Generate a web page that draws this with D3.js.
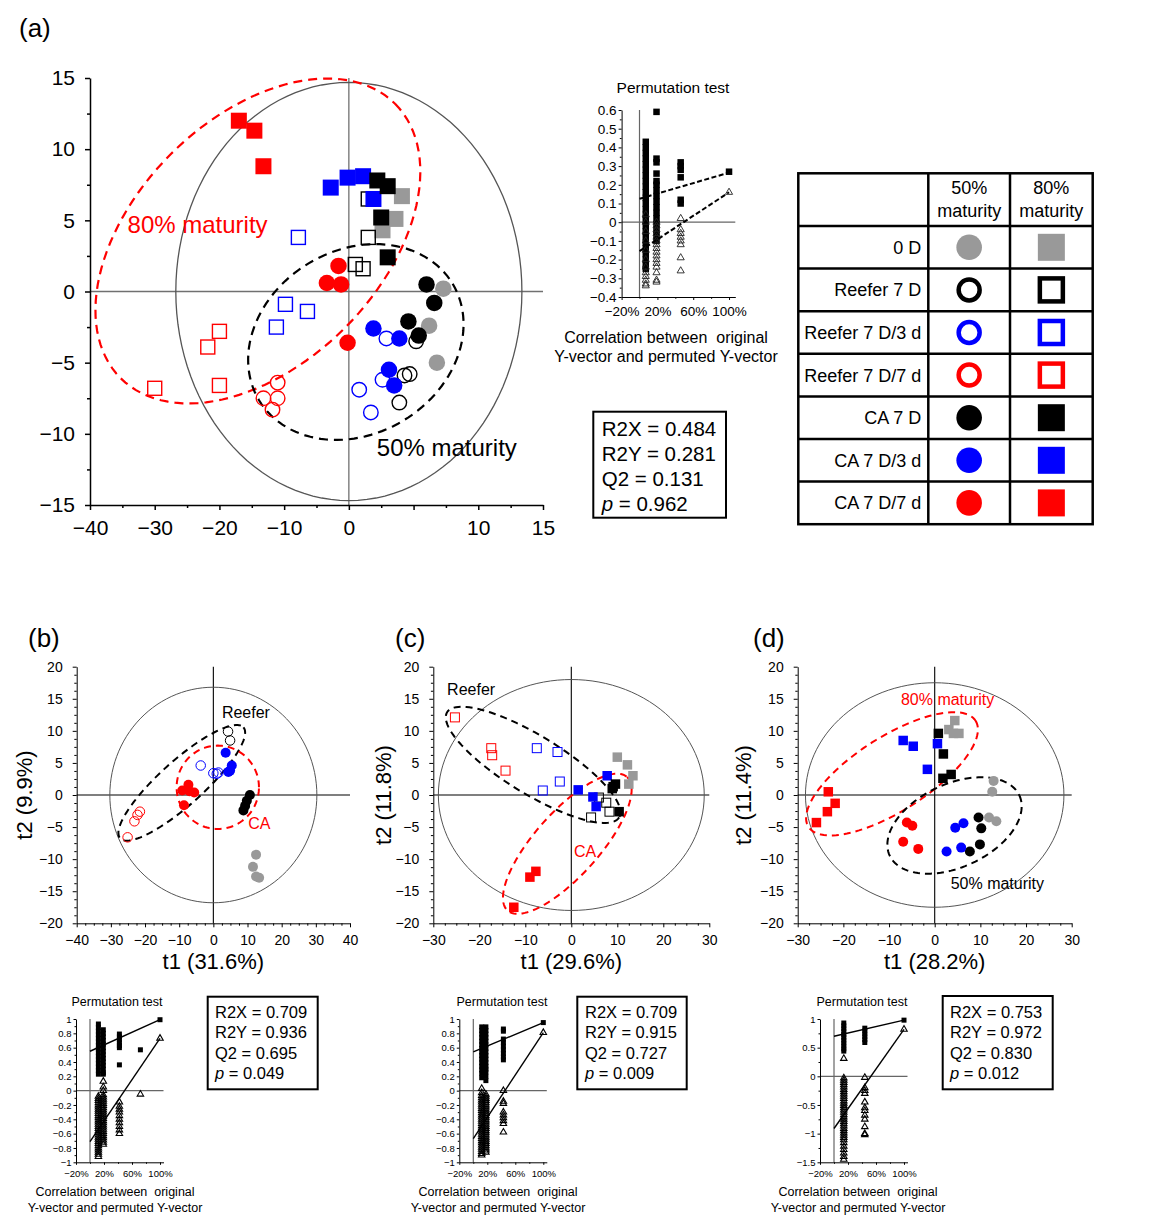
<!DOCTYPE html>
<html>
<head>
<meta charset="utf-8">
<script src="https://cdn.jsdelivr.net/npm/d3@7"></script>
<style>
  body { margin: 0; background: #fff; }
  svg { display: block; }
</style>
</head>
<body>
<svg id="fig" width="1153" height="1223"></svg>
<script>
const FONT = "Arial, 'Liberation Sans', Helvetica, sans-serif";

// Treatment groups (legend rows)
const groups = ["0 D", "Reefer 7 D", "Reefer 7 D/3 d", "Reefer 7 D/7 d", "CA 7 D", "CA 7 D/3 d", "CA 7 D/7 d"];
const groupColor = ["#999999", "#000000", "#0000ff", "#ff0000", "#000000", "#0000ff", "#ff0000"];
const groupOpen = [false, true, true, true, false, false, false];

// (a) scores [group, t1, t2]; circles = 50% maturity, squares = 80% maturity
const a50 = [
  [0, 7.3, 0.2], [0, 6.2, -2.4], [0, 6.8, -5.0],
  [1, 5.2, -3.5], [1, 4.3, -5.9], [1, 4.7, -5.8], [1, 3.9, -7.8],
  [2, 2.9, -3.3], [2, 2.6, -6.2], [2, 0.8, -6.9], [2, 1.7, -8.5],
  [3, -5.5, -6.4], [3, -5.5, -7.5], [3, -6.6, -7.5], [3, -5.9, -8.3],
  [4, 6.0, 0.5], [4, 6.6, -0.8], [4, 4.6, -2.1], [4, 5.4, -3.1],
  [5, 1.9, -2.6], [5, 3.9, -3.3], [5, 3.1, -5.5], [5, 3.5, -6.6],
  [6, -0.8, 1.8], [6, -1.7, 0.6], [6, -0.6, 0.5], [6, -0.1, -3.6]
];
const a80 = [
  [0, 4.1, 6.7], [0, 3.6, 5.1], [0, 2.6, 4.3],
  [1, 1.5, 6.5], [1, 1.5, 3.8], [1, 0.5, 1.9], [1, 1.1, 1.6],
  [2, -3.9, 3.8], [2, -4.9, -0.9], [2, -3.2, -1.4], [2, -5.6, -2.5],
  [3, -15.0, -6.8], [3, -10.9, -3.9], [3, -10.0, -2.8], [3, -10.0, -6.6],
  [5, -1.4, 7.3], [5, -0.1, 8.0], [5, 1.1, 8.1], [5, 1.9, 6.5],
  [4, 2.2, 7.8], [4, 3.0, 7.4], [4, 2.5, 5.2], [4, 3.0, 2.4],
  [6, -8.5, 12.0], [6, -7.3, 11.3], [6, -6.6, 8.8]
];
const aXTicks = [-20, -15, -10, -5, 0, 5, 10, 15];
const aXTickLabels = ["−40", "−30", "−20", "−10", "0", "", "10", "15"];
const aT2 = [13.37, 14.69];
const aEllipses = [
  { cx: -7.03, cy: 3.55, ax: 10.6, ay: 9.64, bx: 6.72, by: -6.11 },
  { cx: 0.54, cy: -3.55, ax: 7.48, ay: 4.09, bx: 3.65, by: -5.53 }
];
const aLabels = [["80% maturity", -17.1, 4.1], ["50% maturity", 2.16, -11.56]];
const aStats = [["R2X", "0.484"], ["R2Y", "0.281"], ["Q2", "0.131"], ["p", "0.962"]];

// (b) 50% maturity
const b50 = [
  [0, 12.5, -9.3], [0, 11.6, -11.2], [0, 12.5, -12.7], [0, 13.4, -12.9],
  [1, 4.3, 9.9], [1, 4.9, 8.5],
  [2, -3.7, 4.6], [2, 0.0, 3.4], [2, 1.0, 3.3], [2, 1.5, 3.5],
  [3, -21.5, -2.6], [3, -22.2, -3.1], [3, -23.1, -4.1], [3, -25.1, -6.6],
  [4, 10.7, 0.0], [4, 9.8, -0.9], [4, 9.3, -1.7], [4, 8.8, -2.4],
  [5, 3.6, 6.6], [5, 5.4, 4.6], [5, 4.9, 3.8], [5, 4.4, 3.6],
  [6, -7.3, 1.6], [6, -9.1, 0.7], [6, -5.6, 0.4], [6, -8.6, -1.6], [6, -7.0, 0.6]
];
const bT2 = [30.3, 16.8];
const bEllipses = [
  { cx: -9.25, cy: 1.9, ax: 18.05, ay: 8.65, bx: 4.3, by: -2.55 },
  { cx: 1.3, cy: 1.2, ax: 12.05, ay: 0, bx: 0, by: 6.5 }
];
const bLabels = [["Reefer", 2.5, 12.0], ["CA", 10.2, -5.25]];
const bStats = [["R2X", "0.709"], ["R2Y", "0.936"], ["Q2", "0.695"], ["p", "0.049"]];

// (c) 80% maturity
const c80 = [
  [0, 10.0, 5.9], [0, 12.2, 4.7], [0, 13.4, 3.0], [0, 12.5, 1.7],
  [1, 6.0, -0.4], [1, 7.6, -1.2], [1, 8.3, -2.6], [1, 4.3, -3.5],
  [2, -7.5, 7.3], [2, -3.0, 6.7], [2, -2.5, 2.1], [2, -6.2, 0.7],
  [3, -25.3, 12.1], [3, -17.4, 7.3], [3, -17.2, 6.2], [3, -14.3, 3.8],
  [5, 7.8, 3.0], [5, 1.5, 0.8], [5, 4.7, -0.3], [5, 5.4, -1.8],
  [4, 9.1, 1.3], [4, 9.6, 1.7], [4, 8.9, 1.0], [4, 10.4, -2.6],
  [6, -7.7, -11.9], [6, -9.0, -12.8], [6, -12.5, -17.5]
];
const cT2 = [28.9, 18.0];
const cEllipses = [
  { cx: -8.3, cy: 4.7, ax: 18.7, ay: -8.2, bx: -3.3, by: -3.85 },
  { cx: -0.87, cy: -7.6, ax: 13.0, ay: 10.4, bx: 5.17, by: -3.33 }
];
const cLabels = [["Reefer", -27.0, 15.6], ["CA", 0.6, -9.6]];
const cStats = [["R2X", "0.709"], ["R2Y", "0.915"], ["Q2", "0.727"], ["p", "0.009"]];

// (d) CA samples, both maturities
const d50 = [
  [0, 12.9, 2.2], [0, 12.6, 0.5], [0, 11.9, -3.5], [0, 13.5, -4.1],
  [4, 9.6, -3.5], [4, 10.2, -5.2], [4, 9.9, -7.7], [4, 7.7, -8.8],
  [5, 4.5, -5.1], [5, 6.3, -4.4], [5, 5.8, -8.2], [5, 2.6, -8.8],
  [6, -6.1, -4.3], [6, -4.9, -4.8], [6, -6.9, -7.3], [6, -3.6, -8.4]
];
const d80 = [
  [0, 4.4, 11.6], [0, 3.1, 10.2], [0, 4.1, 9.6], [0, 5.3, 9.6],
  [4, 0.8, 9.6], [4, 1.9, 6.4], [4, 3.6, 3.2], [4, 1.8, 2.6],
  [5, -6.9, 8.5], [5, -4.7, 7.6], [5, 0.6, 8.0], [5, -1.6, 4.0],
  [6, -23.3, 0.5], [6, -21.8, -1.3], [6, -23.5, -2.6], [6, -25.9, -4.3]
];
const dT2 = [28.3, 17.5];
const dEllipses = [
  { cx: -9.35, cy: 3.3, ax: 18.3, ay: 8.27, bx: 4.37, by: -4.89 },
  { cx: 4.34, cy: -4.75, ax: 14.2, ay: 4.69, bx: 3.83, by: -5.88 }
];
const dLabels = [["80% maturity", -7.4, 14.1], ["50% maturity", 3.5, -14.6]];
const dStats = [["R2X", "0.753"], ["R2Y", "0.972"], ["Q2", "0.830"], ["p", "0.012"]];

// permutation tests: column x (correlation), R2 values (squares), Q2 values (triangles), regression lines
const permA_x = [0.07, 0.19, 0.46, 1.0];
const permA_R2 = [
  [0.43, 0.40, 0.37, 0.34, 0.31, 0.28, 0.25, 0.22, 0.19, 0.16, 0.13, 0.10, 0.07, 0.04, 0.01, -0.02, -0.05, -0.08, -0.11, -0.14, -0.17, -0.20, -0.23, -0.25],
  [0.59, 0.34, 0.32, 0.26, 0.22, 0.20, 0.17, 0.14, 0.11, 0.08, 0.05, 0.02, -0.01, -0.04, -0.07, -0.10],
  [0.32, 0.30, 0.28, 0.24, 0.12, 0.10],
  [0.27]
];
const permA_Q2 = [
  [0.04, 0.0, -0.05, -0.10, -0.15, -0.20, -0.24, -0.27, -0.29, -0.31, -0.33, -0.34],
  [0.0, -0.02, -0.04, -0.06, -0.08, -0.10, -0.12, -0.14, -0.16, -0.18, -0.20, -0.22, -0.24, -0.27, -0.31, -0.32],
  [0.02, -0.04, -0.06, -0.08, -0.10, -0.12, -0.19, -0.26],
  [0.16]
];
const permA_lines = [[[0, 0.125], [1, 0.265]], [[0, -0.155], [1, 0.16]]];

const permB_x = [0.12, 0.19, 0.42, 0.72, 1.0];
const permB_R2 = [
  [0.93, 0.88, 0.83, 0.78, 0.73, 0.68, 0.63, 0.58, 0.53, 0.48, 0.43, 0.38, 0.33, 0.28, 0.23],
  [0.85, 0.80, 0.75, 0.70, 0.65, 0.60, 0.55, 0.50, 0.45, 0.40, 0.35, 0.30, 0.25, 0.23],
  [0.79, 0.75, 0.71, 0.67, 0.63, 0.60, 0.36],
  [0.57],
  [0.99]
];
const permB_Q2 = [
  [-0.08, -0.11, -0.14, -0.17, -0.20, -0.23, -0.26, -0.29, -0.32, -0.35, -0.38, -0.41, -0.44, -0.47, -0.50, -0.53, -0.56, -0.59, -0.62, -0.65, -0.68, -0.71, -0.74, -0.77, -0.80, -0.83, -0.86, -0.89, -0.92],
  [0.13, 0.05, 0.0, -0.06, -0.09, -0.12, -0.15, -0.18, -0.21, -0.24, -0.27, -0.30, -0.33, -0.36, -0.39, -0.42, -0.45, -0.48, -0.51, -0.54, -0.57, -0.60, -0.63, -0.66, -0.69, -0.72, -0.75],
  [-0.16, -0.22, -0.26, -0.30, -0.35, -0.40, -0.45, -0.50, -0.55, -0.60],
  [-0.05],
  [0.73]
];
const permB_lines = [[[0, 0.55], [1, 0.99]], [[0, -0.71], [1, 0.73]]];

const permC_x = [0.12, 0.18, 0.43, 1.0];
const permC_R2 = [
  [0.89, 0.84, 0.79, 0.74, 0.69, 0.64, 0.59, 0.54, 0.49, 0.44, 0.39, 0.34, 0.29, 0.24, 0.18],
  [0.89, 0.84, 0.79, 0.74, 0.69, 0.64, 0.59, 0.54, 0.49, 0.44, 0.39, 0.34, 0.30, 0.26, 0.20, 0.14],
  [0.86, 0.83, 0.72, 0.67, 0.62, 0.57, 0.52, 0.47, 0.43],
  [0.95]
];
const permC_Q2 = [
  [0.03, -0.03, -0.07, -0.10, -0.13, -0.16, -0.19, -0.22, -0.25, -0.28, -0.31, -0.34, -0.37, -0.40, -0.43, -0.46, -0.49, -0.52, -0.55, -0.58, -0.61, -0.64, -0.67, -0.70, -0.73, -0.76, -0.79, -0.82, -0.85, -0.88, -0.90],
  [-0.05, -0.08, -0.11, -0.14, -0.17, -0.20, -0.23, -0.26, -0.29, -0.32, -0.35, -0.38, -0.41, -0.44, -0.47, -0.50, -0.53, -0.56, -0.59, -0.62, -0.65, -0.68, -0.71, -0.74, -0.77, -0.80, -0.83, -0.86],
  [0.0, -0.15, -0.18, -0.30, -0.34, -0.38, -0.42, -0.46, -0.58],
  [0.81]
];
const permC_lines = [[[0, 0.54], [1, 0.95]], [[0, -0.67], [1, 0.81]]];

const permD_x = [0.14, 0.44, 1.0];
const permD_R2 = [
  [0.93, 0.88, 0.83, 0.78, 0.73, 0.68, 0.63, 0.58, 0.53, 0.48, 0.44],
  [0.84, 0.79, 0.74, 0.69, 0.64, 0.59],
  [0.98]
];
const permD_Q2 = [
  [0.31, -0.03, -0.07, -0.11, -0.15, -0.19, -0.23, -0.27, -0.31, -0.35, -0.39, -0.43, -0.47, -0.51, -0.55, -0.59, -0.63, -0.67, -0.71, -0.75, -0.79, -0.83, -0.87, -0.91, -0.95, -0.99, -1.03, -1.07, -1.11, -1.16, -1.22, -1.28, -1.34, -1.40, -1.45],
  [-0.02, -0.20, -0.25, -0.30, -0.45, -0.55, -0.60, -0.68, -0.75, -0.88, -1.00, -1.02],
  [0.82]
];
const permD_lines = [[[0, 0.70], [1, 0.98]], [[0, -0.91], [1, 0.82]]];

const permTicksX = [-0.2, 0.2, 0.6, 1.0];
const captionLines = ["Correlation between  original", "Y-vector and permuted Y-vector"];

// ---------------------------------------------------------------
const svg = d3.select("#fig").attr("font-family", FONT);

function ellipsePts(e) {
  return d3.range(0, 361, 3).map(deg => {
    const t = deg * Math.PI / 180;
    return [e.cx + e.ax * Math.cos(t) + e.bx * Math.sin(t), e.cy + e.ay * Math.cos(t) + e.by * Math.sin(t)];
  });
}

function addAxis(g, gen, transform, o, minor) {
  const a = g.append("g").attr("transform", transform).call(gen);
  a.attr("font-family", FONT).attr("font-size", o.font);
  a.select(".domain").attr("stroke", "#000").attr("stroke-width", o.sw);
  a.selectAll(".tick line").attr("stroke", "#000").attr("stroke-width", o.sw);
  a.selectAll(".tick text").attr("fill", "#000");
  if (minor) a.select(".domain").remove();
  return a;
}

function axes(g, xs, ys, o) {
  const y0 = ys.range()[0], x0 = xs.range()[0];
  addAxis(g, d3.axisBottom(xs).tickValues(o.xTicks).tickFormat((d, i) => o.xFmt(d, i))
    .tickSize(o.tick).tickPadding(o.padX).tickSizeOuter(0), `translate(0,${y0})`, o);
  addAxis(g, d3.axisLeft(ys).tickValues(o.yTicks).tickFormat(o.yFmt)
    .tickSize(o.tick).tickPadding(o.padY).tickSizeOuter(0), `translate(${x0},0)`, o);
  if (o.xMinor) addAxis(g, d3.axisBottom(xs).tickValues(o.xMinor).tickFormat("").tickSize(o.tick * 0.6).tickSizeOuter(0), `translate(0,${y0})`, o, true);
  if (o.yMinor) addAxis(g, d3.axisLeft(ys).tickValues(o.yMinor).tickFormat("").tickSize(o.tick * 0.6).tickSizeOuter(0), `translate(${x0},0)`, o, true);
}

function markers(g, pts, shape, xs, ys, m) {
  const sz = d => groupOpen[d[0]] ? m.open : m.fill;
  const sel = g.selectAll(null).data(pts).join(shape === "circle" ? "circle" : "rect");
  if (shape === "circle") {
    sel.attr("cx", d => xs(d[1])).attr("cy", d => ys(d[2])).attr("r", d => sz(d) / 2);
  } else {
    sel.attr("x", d => xs(d[1]) - sz(d) / 2).attr("y", d => ys(d[2]) - sz(d) / 2)
      .attr("width", sz).attr("height", sz);
  }
  sel.attr("fill", d => groupOpen[d[0]] ? "none" : groupColor[d[0]])
    .attr("stroke", d => groupOpen[d[0]] ? groupColor[d[0]] : "none")
    .attr("stroke-width", m.sw);
}

function scatter(c) {
  const { xs, ys } = c;
  const g = svg.append("g");
  const line = d3.line().x(d => xs(d[0])).y(d => ys(d[1]));
  // zero lines
  g.append("line").attr("x1", xs.range()[0]).attr("x2", xs.range()[1]).attr("y1", ys(0)).attr("y2", ys(0))
    .attr("stroke", c.zeroColor).attr("stroke-width", c.zeroW);
  g.append("line").attr("x1", xs(0)).attr("x2", xs(0)).attr("y1", ys.range()[0]).attr("y2", ys.range()[1])
    .attr("stroke", c.zeroColor).attr("stroke-width", c.zeroW);
  // Hotelling T2 ellipse
  g.append("path").attr("d", line(ellipsePts({ cx: 0, cy: 0, ax: c.t2[0], ay: 0, bx: 0, by: c.t2[1] })))
    .attr("fill", "none").attr("stroke", "#555").attr("stroke-width", c.t2W);
  axes(g, xs, ys, c);
  // group ellipses
  c.ellipses.forEach((e, i) => {
    g.append("path").attr("d", line(ellipsePts(e))).attr("fill", "none")
      .attr("stroke", c.ellColors[i]).attr("stroke-width", c.ellW).attr("stroke-dasharray", c.dash);
  });
  if (c.pts80) markers(g, c.pts80, "rect", xs, ys, c.sq);
  if (c.pts50) markers(g, c.pts50, "circle", xs, ys, c.ci);
  c.labels.forEach((l, i) => {
    g.append("text").attr("x", xs(l[1])).attr("y", ys(l[2])).attr("font-size", c.labelFont)
      .attr("fill", c.labelColors[i]).text(l[0]);
  });
  if (c.xTitle) {
    g.append("text").attr("x", xs(0)).attr("y", c.xTitleY).attr("text-anchor", "middle")
      .attr("font-size", c.titleFont).text(c.xTitle);
    g.append("text").attr("transform", `translate(${c.yTitleX},${ys(0)}) rotate(-90)`)
      .attr("text-anchor", "middle").attr("dy", "0.35em").attr("font-size", c.titleFont).text(c.yTitle);
  }
}

function statsBox(stats, b) {
  const g = svg.append("g");
  g.append("rect").attr("x", b.x).attr("y", b.y).attr("width", b.w).attr("height", b.h)
    .attr("fill", "#fff").attr("stroke", "#000").attr("stroke-width", 2);
  stats.forEach((s, i) => {
    const t = g.append("text").attr("x", b.tx).attr("y", b.y + b.first + i * b.step).attr("font-size", b.font);
    if (s[0] === "p") {
      t.append("tspan").attr("font-style", "italic").text("p");
      t.append("tspan").text(" = " + s[1]);
    } else {
      t.text(`${s[0]} = ${s[1]}`);
    }
  });
}

const fmtSigned = d => Math.abs(d) < 1e-9 ? "0" : (Number.isInteger(d) ? d3.format("d")(d) : d3.format(".1f")(d));

function perm(p) {
  const xs = d3.scaleLinear().domain([-0.2, p.xMax]).range(p.xr);
  const ys = d3.scaleLinear().domain(p.yd).range(p.yr);
  const g = svg.append("g");
  g.append("line").attr("x1", xs(0)).attr("x2", xs(0)).attr("y1", p.yr[0]).attr("y2", p.yr[1])
    .attr("stroke", "#666").attr("stroke-width", 1.2);
  g.append("line").attr("x1", p.xr[0]).attr("x2", p.xr[1]).attr("y1", ys(0)).attr("y2", ys(0))
    .attr("stroke", "#666").attr("stroke-width", 1.2);
  axes(g, xs, ys, {
    xTicks: permTicksX, xFmt: d3.format(".0%"), yTicks: p.yTicks, yFmt: fmtSigned,
    xMinor: [0, 0.4, 0.8], yMinor: p.yMinor, tick: p.tick, padX: p.padX, padY: p.padY, font: p.font, sw: 1
  });
  p.r2.forEach((col, i) => {
    g.selectAll(null).data(col).join("rect")
      .attr("x", xs(p.cols[i]) - p.sq / 2).attr("y", d => ys(d) - p.sq / 2)
      .attr("width", p.sq).attr("height", p.sq).attr("fill", "#000");
  });
  const tri = d3.symbol(d3.symbolTriangle, p.tri);
  p.q2.forEach((col, i) => {
    g.selectAll(null).data(col).join("path").attr("d", tri)
      .attr("transform", d => `translate(${xs(p.cols[i])},${ys(d)})`)
      .attr("fill", "none").attr("stroke", p.triColor).attr("stroke-width", p.triW);
  });
  const line = d3.line().x(d => xs(d[0])).y(d => ys(d[1]));
  p.lines.forEach(l => {
    g.append("path").attr("d", line(l)).attr("fill", "none").attr("stroke", "#000")
      .attr("stroke-width", p.lw).attr("stroke-dasharray", p.dash);
  });
  g.append("text").attr("x", p.titleX).attr("y", p.titleY).attr("text-anchor", "middle")
    .attr("font-size", p.titleFont).text("Permutation test");
  captionLines.forEach((t, i) => {
    g.append("text").attr("x", p.capX).attr("y", p.capY[i]).attr("text-anchor", "middle")
      .attr("font-size", p.capFont).style("white-space", "pre").text(t);
  });
}

// ---------------- panel (a) ----------------
scatter({
  xs: d3.scaleLinear().domain([-20, 15]).range([90, 543]),
  ys: d3.scaleLinear().domain([-15, 15]).range([505, 78]),
  t2: aT2, t2W: 1.3, zeroColor: "#707070", zeroW: 1.3,
  xTicks: aXTicks, xFmt: (d, i) => aXTickLabels[i], xMinor: d3.range(-17.5, 15, 5),
  yTicks: d3.range(-15, 16, 5), yFmt: d3.format("d"), yMinor: d3.range(-12.5, 15, 5),
  tick: 5, padX: 10, padY: 10, font: 21, sw: 1.5,
  ellipses: aEllipses, ellColors: ["#ff0000", "#000000"], ellW: 2.2, dash: "9,6",
  pts50: a50, pts80: a80,
  ci: { fill: 16.5, open: 14.5, sw: 1.4 }, sq: { fill: 16, open: 14, sw: 1.4 },
  labels: aLabels, labelColors: ["#ff0000", "#000000"], labelFont: 24
});
statsBox(aStats, { x: 593.3, y: 411.7, w: 132.7, h: 106, tx: 601.7, first: 24, step: 25, font: 20.5 });
perm({
  xMax: 1.07, xr: [621.6, 735.3], yd: [-0.4, 0.6], yr: [297, 110],
  yTicks: d3.range(-4, 7).map(v => v / 10), yMinor: d3.range(-4, 6).map(v => v / 10 + 0.05),
  tick: 3, padX: 6, padY: 2, font: 13.5,
  cols: permA_x, r2: permA_R2, q2: permA_Q2, lines: permA_lines,
  sq: 6.5, tri: 22, triColor: "#222", triW: 0.9, lw: 2, dash: "5,2.5",
  titleX: 673, titleY: 93, titleFont: 15.5, capX: 666, capY: [343, 362], capFont: 16
});

// legend table
(function () {
  const g = svg.append("g");
  const colX = [798.3, 928.3, 1010, 1092.7];
  const top = 173.3, headH = 52.7, rowH = 42.6;
  const rowY = i => top + headH + i * rowH;
  const bottom = rowY(groups.length);
  g.append("rect").attr("x", colX[0]).attr("y", top).attr("width", colX[3] - colX[0]).attr("height", bottom - top)
    .attr("fill", "none").attr("stroke", "#000").attr("stroke-width", 2.5);
  [colX[1], colX[2]].forEach(x => g.append("line").attr("x1", x).attr("x2", x).attr("y1", top).attr("y2", bottom)
    .attr("stroke", "#000").attr("stroke-width", 2.5));
  d3.range(groups.length).forEach(i => g.append("line").attr("x1", colX[0]).attr("x2", colX[3])
    .attr("y1", rowY(i)).attr("y2", rowY(i)).attr("stroke", "#000").attr("stroke-width", 2.5));
  const heads = [["50%", "maturity"], ["80%", "maturity"]];
  heads.forEach((h, j) => {
    const cx = (colX[j + 1] + colX[j + 2]) / 2;
    h.forEach((t, k) => g.append("text").attr("x", cx).attr("y", top + 21 + k * 23).attr("text-anchor", "middle")
      .attr("font-size", 18).text(t));
  });
  groups.forEach((name, i) => {
    const cy = rowY(i) + rowH / 2;
    g.append("text").attr("x", colX[1] - 7).attr("y", cy + 6.5).attr("text-anchor", "end").attr("font-size", 18).text(name);
    const open = groupOpen[i], col = groupColor[i];
    const c1 = (colX[1] + colX[2]) / 2, c2 = (colX[2] + colX[3]) / 2;
    g.append("circle").attr("cx", c1).attr("cy", cy).attr("r", open ? 10.5 : 12.8)
      .attr("fill", open ? "none" : col).attr("stroke", open ? col : "none").attr("stroke-width", 4.5);
    const s = open ? 23 : 27;
    g.append("rect").attr("x", c2 - s / 2).attr("y", cy - s / 2).attr("width", s).attr("height", s)
      .attr("fill", open ? "none" : col).attr("stroke", open ? col : "none").attr("stroke-width", 4.5);
  });
})();

// ---------------- panels (b), (c), (d) ----------------
const lowerY = d3.scaleLinear().domain([-20, 20]).range([923.3, 666.7]);
const lowerCommon = {
  ys: lowerY, t2W: 1, zeroColor: "#000", zeroW: 1.1,
  yTicks: d3.range(-20, 21, 5), yFmt: d3.format("d"),
  yMinor: d3.range(-20, 20.1, 1.25).filter(v => v % 5 !== 0),
  xFmt: d3.format("d"), tick: 4, padX: 8, padY: 10, font: 14, sw: 1,
  ellW: 2, dash: "7,5",
  ci: { fill: 10, open: 9.5, sw: 1 }, sq: { fill: 9.5, open: 9, sw: 1 },
  labelFont: 16, titleFont: 22, xTitleY: 969
};

scatter(Object.assign({}, lowerCommon, {
  xs: d3.scaleLinear().domain([-40, 40]).range([76.7, 350]),
  xTicks: d3.range(-40, 41, 10), xMinor: d3.range(-40, 40.1, 2.5).filter(v => v % 10 !== 0),
  t2: bT2, ellipses: bEllipses, ellColors: ["#000000", "#ff0000"],
  pts50: b50, labels: bLabels, labelColors: ["#000000", "#ff0000"],
  xTitle: "t1 (31.6%)", yTitle: "t2 (9.9%)", yTitleX: 24
}));
scatter(Object.assign({}, lowerCommon, {
  xs: d3.scaleLinear().domain([-30, 30]).range([433.3, 709.3]),
  xTicks: d3.range(-30, 31, 10), xMinor: d3.range(-30, 30.1, 2.5).filter(v => v % 10 !== 0),
  t2: cT2, ellipses: cEllipses, ellColors: ["#000000", "#ff0000"],
  pts80: c80, labels: cLabels, labelColors: ["#000000", "#ff0000"],
  xTitle: "t1 (29.6%)", yTitle: "t2 (11.8%)", yTitleX: 383
}));
scatter(Object.assign({}, lowerCommon, {
  xs: d3.scaleLinear().domain([-30, 30]).range([797.7, 1071.7]),
  xTicks: d3.range(-30, 31, 10), xMinor: d3.range(-30, 30.1, 2.5).filter(v => v % 10 !== 0),
  t2: dT2, ellipses: dEllipses, ellColors: ["#ff0000", "#000000"],
  pts50: d50, pts80: d80, labels: dLabels, labelColors: ["#ff0000", "#000000"],
  xTitle: "t1 (28.2%)", yTitle: "t2 (11.4%)", yTitleX: 743
}));

const lowerPerm = {
  xMax: 1.05, yr: [1162.3, 1019], tick: 2.5, padX: 5, padY: 2, font: 9.5,
  sq: 5, tri: 18, triColor: "#000", triW: 1.1, lw: 1.4, dash: null,
  titleY: 1006, titleFont: 12.5, capY: [1196, 1211.5], capFont: 12.5
};
perm(Object.assign({}, lowerPerm, {
  xr: [76, 163.5], yd: [-1, 1], yTicks: d3.range(-5, 6).map(v => v / 5), yMinor: d3.range(-9, 10, 2).map(v => v / 10),
  cols: permB_x, r2: permB_R2, q2: permB_Q2, lines: permB_lines, titleX: 117, capX: 115
}));
perm(Object.assign({}, lowerPerm, {
  xr: [459.3, 546.8], yd: [-1, 1], yTicks: d3.range(-5, 6).map(v => v / 5), yMinor: d3.range(-9, 10, 2).map(v => v / 10),
  cols: permC_x, r2: permC_R2, q2: permC_Q2, lines: permC_lines, titleX: 502, capX: 498
}));
perm(Object.assign({}, lowerPerm, {
  xr: [820, 907.5], yd: [-1.5, 1], yTicks: [-1.5, -1, -0.5, 0, 0.5, 1], yMinor: [-1.25, -0.75, -0.25, 0.25, 0.75],
  cols: permD_x, r2: permD_R2, q2: permD_Q2, lines: permD_lines, titleX: 862, capX: 858
}));

statsBox(bStats, { x: 207.7, y: 996.7, w: 110, h: 92.6, tx: 215, first: 21, step: 20.5, font: 16.5 });
statsBox(cStats, { x: 577.3, y: 996.7, w: 109.4, h: 92.6, tx: 585, first: 21, step: 20.5, font: 16.5 });
statsBox(dStats, { x: 942.7, y: 996, w: 110, h: 93.3, tx: 950, first: 21.5, step: 20.5, font: 16.5 });

// panel letters
[["(a)", 19, 37], ["(b)", 28, 647], ["(c)", 395, 647], ["(d)", 753, 647]].forEach(l => {
  svg.append("text").attr("x", l[1]).attr("y", l[2]).attr("font-size", 26).text(l[0]);
});
</script>
</body>
</html>
